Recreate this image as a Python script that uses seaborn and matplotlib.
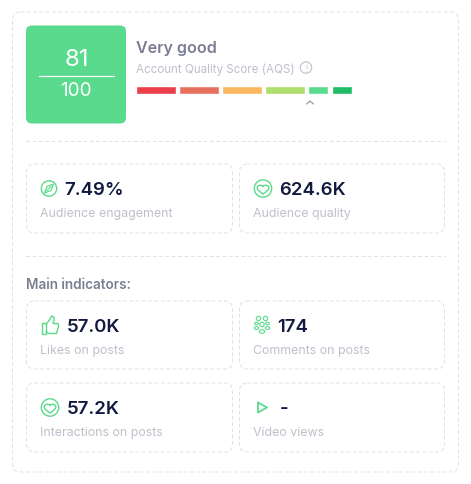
import numpy as np
import matplotlib
matplotlib.use('Agg')
import matplotlib.pyplot as plt
from matplotlib.patches import FancyBboxPatch, Circle, Ellipse, Polygon
import seaborn as sns

# данные
score = 81
score_max = 100
grade = 'Very good'
score_name = 'Account Quality Score (AQS)'
band_widths = [20, 20, 20, 20, 10, 10]
band_colors = ['#ec3e4b', '#e8705f', '#fbb85f', '#aede6f', '#5ada8c', '#22bb66']

section_title = 'Main indicators:'
kpi_values = ['7.49%', '624.6K', '57.0K', '174', '57.2K', '-']
kpi_labels = ['Audience engagement', 'Audience quality', 'Likes on posts',
              'Comments on posts', 'Interactions on posts', 'Video views']

GREEN = '#5ada8c'
DASH = '#dfe1e5'
NAVY = '#111a3f'
SLATE = '#7b7d94'
PALE = '#bfc0ca'

sns.set_theme(style='white')
plt.rcParams['font.family'] = ['Inter', 'DejaVu Sans']

W, H = 471, 485
fig = plt.figure(figsize=(W / 100, H / 100), dpi=100, facecolor='white')

# холст в пикселях
ax = fig.add_axes([0, 0, 1, 1])
ax.set_xlim(0, W)
ax.set_ylim(H - 0.5, -0.5)
ax.axis('off')


def px(size):
    return size * 0.72


def box(x0, y0, x1, y1, r=8, **kw):
    p = FancyBboxPatch((x0 + r, y0 + r), x1 - x0 - 2 * r, y1 - y0 - 2 * r,
                       boxstyle='round,pad=%s,rounding_size=%s' % (r, r), **kw)
    ax.add_patch(p)


def dashed_box(x0, y0, x1, y1):
    box(x0, y0, x1, y1, fc='none', ec=DASH, lw=0.7, ls=(0, (4, 2.5)))


def stroke(xs, ys, lw=1.0):
    ax.plot(xs, ys, color=GREEN, lw=lw, solid_capstyle='round', solid_joinstyle='round')


def heart(cx, cy):
    ax.add_patch(Circle((cx, cy), 8.7, fc='none', ec=GREEN, lw=1.0))
    # щиток с мягкой выемкой
    t = np.linspace(0, 2 * np.pi, 60)
    hx = cx + 5.2 * np.sin(t) ** 3 + 0.6 * np.sin(t)
    hy = cy + 0.4 - 0.34 * (13 * np.cos(t) - 3.5 * np.cos(2 * t) - 1.5 * np.cos(3 * t) - 0.5 * np.cos(4 * t))
    stroke(hx, hy)


def compass(cx, cy):
    ax.add_patch(Circle((cx, cy), 7.7, fc='none', ec=GREEN, lw=1.0))
    ax.add_patch(Polygon([(cx + 4.5, cy - 4.5), (cx + 2, cy + 2), (cx - 4.5, cy + 4.5), (cx - 2, cy - 2)],
                         fc='none', ec=GREEN, lw=0.9))
    stroke([cx - 2, cx + 2], [cy + 2, cy - 2], lw=0.8)


def thumb(cx, cy):
    stroke([cx - 8.5, cx - 4, cx - 4, cx - 8.5, cx - 8.5],
           [cy - 4, cy - 4, cy + 7, cy + 7, cy - 4])
    stroke([cx - 4, cx - 1, cx + 1, cx + 1.5, cx + 4, cx + 4, cx + 3, cx + 8, cx + 8.5, cx + 6.5, cx - 1, cx - 4],
           [cy - 2, cy - 6, cy - 9, cy - 10.5, cy - 9.5, cy - 6, cy - 3, cy - 3, cy, cy + 7, cy + 7, cy + 5])


def people(cx, cy):
    for dx, dy, rx, ry in [(-3.5, -7, 2.2, 2.2), (3.5, -7, 2.2, 2.2), (0, -1, 2.2, 2.2),
                           (-5.5, -2, 1.8, 1.3), (5.5, -2, 1.8, 1.3), (-5.5, 2.5, 2.2, 1.4),
                           (5.5, 2.5, 2.2, 1.4), (0, 6, 2.8, 1.8)]:
        ax.add_patch(Ellipse((cx + dx, cy + dy), 2 * rx, 2 * ry, fc='none', ec=GREEN, lw=0.8))


def play(cx, cy):
    stroke([cx - 4, cx + 5, cx - 4, cx - 4], [cy - 5, cy, cy + 5, cy - 5], lw=1.3)


# внешняя рамка и разделители
dashed_box(12.5, 12.5, 458.5, 472.5)
for y in (141.5, 256.5):
    ax.plot([26, 445], [y, y], color=DASH, lw=0.7, ls=(0, (4, 2.5)))

# плашка с оценкой
box(26, 26, 126, 124, r=6, fc=GREEN, ec='none')
ax.text(76.5, 60, str(score), color='white', fontsize=px(24), ha='center', va='center')
ax.plot([39, 114], [76, 76], color='white', lw=0.9)
ax.text(76, 90.5, str(score_max), color='white', fontsize=px(19), ha='center', va='center')

ax.text(136, 48.5, grade, color=SLATE, fontsize=px(16), va='center', fontweight='semibold')
ax.text(136, 69, score_name, color=PALE, fontsize=px(11.6), va='center')
ax.add_patch(Circle((306, 68), 5.7, fc='none', ec=PALE, lw=0.8))
ax.text(306, 68.5, '!', color=PALE, fontsize=px(8), ha='center', va='center')

# полоса шкалы: 1 единица = 2 пикселя, зазор 1.5 единицы
bar_ax = fig.add_axes([135.6 / W, 1 - 95 / H, 216 / W, 8 / H])
gap = 1.5
left = 0
score_pos = 0
done = 0
for w, c in zip(band_widths, band_colors):
    sns.barplot(x=[w], y=['AQS'], left=left, color=c, width=1, saturation=1, ax=bar_ax)
    if done <= score < done + w:
        score_pos = left + (score - done)
    left += w + gap
    done += w
bar_ax.set_xlim(0, left - gap)
bar_ax.set_ylim(0.5, -0.5)
bar_ax.axis('off')

# указатель на текущую оценку
tip = 136 + score_pos * 2
ax.plot([tip - 3.5, tip, tip + 3.5], [104.5, 101.5, 104.5], color='#9a9ba8', lw=0.9)

# карточки
cards = [(26.5, 164.5, 232.5, 233.5), (239.5, 164.5, 444.5, 233.5),
         (26.5, 301.5, 232.5, 369.5), (239.5, 301.5, 444.5, 369.5),
         (26.5, 383.5, 232.5, 452.5), (239.5, 383.5, 444.5, 452.5)]
value_pos = [(64.5, 190), (279.5, 190), (66.5, 327.5), (277.5, 327.5), (66.5, 409.5), (280, 409.5)]
label_pos = [(40.5, 213.5), (253, 213.5), (40.5, 351), (253, 351), (40.5, 433), (253, 433)]
icons = [(compass, 49, 189), (heart, 263, 189), (thumb, 50, 327),
         (people, 262, 326), (heart, 50, 408), (play, 262, 408)]

for card, val, lab, vp, lp, ic in zip(cards, kpi_values, kpi_labels, value_pos, label_pos, icons):
    dashed_box(*card)
    ax.text(vp[0], vp[1], val, color=NAVY, fontsize=px(18.6), va='center', fontweight='semibold')
    ax.text(lp[0], lp[1], lab, color=PALE, fontsize=px(12.4), va='center')
    ic[0](ic[1], ic[2])

ax.text(26.5, 285, section_title, color=SLATE, fontsize=px(13.5), va='center', fontweight='semibold')

fig.savefig('out.png', dpi=100, facecolor='white')
